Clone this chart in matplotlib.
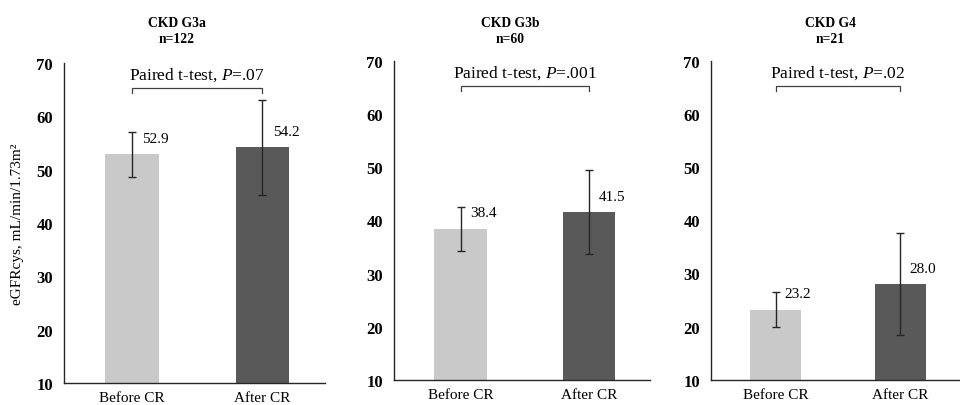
import matplotlib

matplotlib.use("Agg")
import matplotlib.pyplot as plt
import numpy as np

plt.rcParams["font.family"] = ["Liberation Serif", "DejaVu Serif"]
plt.rcParams["mathtext.fontset"] = "custom"
plt.rcParams["mathtext.rm"] = "Liberation Serif"
plt.rcParams["mathtext.it"] = "Liberation Serif:italic"

groups = ["Before CR", "After CR"]
panel_titles = ["CKD G3a\nn=122", "CKD G3b\nn=60", "CKD G4\nn=21"]
means = [[52.9, 54.2], [38.4, 41.5], [23.2, 28.0]]
errors = [[4.2, 8.9], [4.1, 7.9], [3.3, 9.6]]
p_texts = [".07", ".001", ".02"]
y_ticks = [10, 20, 30, 40, 50, 60, 70]
bar_colors = ["#c9c9c9", "#595959"]

fig = plt.figure(figsize=(9.6, 4.06), dpi=100)
axes_rects = [
    [0.0667, 0.0542, 0.272, 0.788],
    [0.4104, 0.0616, 0.267, 0.786],
    [0.7406, 0.0623, 0.2594, 0.785],
]
title_x = [177 / 960, 510 / 960, 830 / 960]

for i, rect in enumerate(axes_rects):
    ax = fig.add_axes(rect)
    x = np.arange(len(groups))
    ax.bar(x, means[i], width=0.41, color=bar_colors, zorder=2)
    ax.errorbar(x, means[i], yerr=errors[i], fmt="none", ecolor="#262626",
                elinewidth=1.0, capsize=3, capthick=1.0, zorder=3)
    for xi, v in zip(x, means[i]):
        ax.text(xi + 0.18, v + 3.0, f"{v:.1f}", ha="center", va="center", fontsize=11)

    # bracket with test result
    by = 65.3
    ax.plot([0, 0, 1, 1], [by - 0.9, by, by, by - 0.9], color="#404040", lw=0.9)
    ax.text(0.5, by + 1.0, f"Paired t-test, $\\mathit{{P}}$={p_texts[i]}",
            ha="center", va="bottom", fontsize=12.5)

    ax.set_xlim(-0.52, 1.48)
    ax.set_ylim(10, 70)
    ax.set_yticks(y_ticks)
    ax.set_yticklabels([str(t) for t in y_ticks], fontweight="bold", fontsize=12)
    ax.set_xticks(x)
    ax.set_xticklabels(groups, fontsize=11)
    ax.tick_params(axis="both", length=0, colors="black")
    ax.tick_params(axis="y", pad=8)
    ax.tick_params(axis="x", pad=6)
    for side in ["top", "right"]:
        ax.spines[side].set_visible(False)
    for side in ["left", "bottom"]:
        ax.spines[side].set_color("#262626")
        ax.spines[side].set_linewidth(1.0)

    fig.text(title_x[i], 0.922, panel_titles[i], ha="center", va="center",
             fontsize=9.8, fontweight="bold", linespacing=1.25)

    if i == 0:
        ax.set_ylabel("eGFRcys, mL/min/1.73m²", fontsize=11, labelpad=9)

fig.savefig("out.png", dpi=100)
plt.close(fig)
